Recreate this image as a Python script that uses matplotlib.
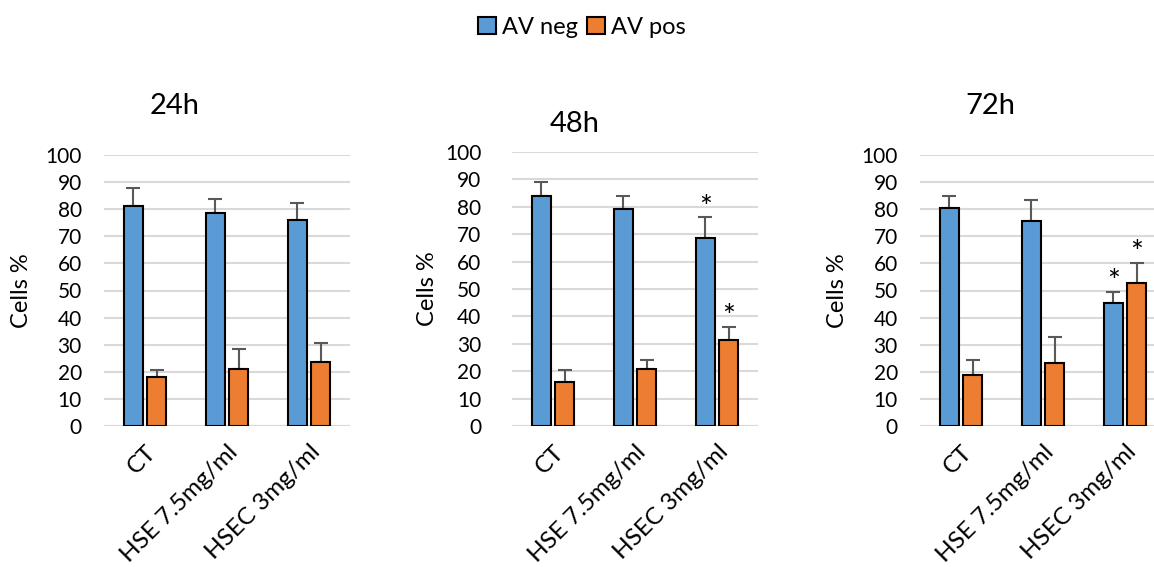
import numpy as np
import matplotlib.pyplot as plt

plt.rcParams["font.family"] = ["Lato", "DejaVu Sans"]

groups = ["CT", "HSE 7.5mg/ml", "HSEC 3mg/ml"]
times = ["24h", "48h", "72h"]

neg_24 = [81.3, 78.7, 76.0]
neg_24_err = [6.4, 5.1, 6.2]
pos_24 = [18.2, 20.9, 23.7]
pos_24_err = [2.5, 7.5, 6.9]

neg_48 = [84.0, 79.3, 68.7]
neg_48_err = [5.0, 4.8, 7.4]
pos_48 = [16.0, 20.8, 31.4]
pos_48_err = [4.6, 3.3, 4.7]

neg_72 = [80.6, 75.6, 45.4]
neg_72_err = [4.4, 7.8, 4.2]
pos_72 = [18.7, 23.4, 52.7]
pos_72_err = [5.7, 9.6, 7.5]

# significance markers (group index) per time point
stars_neg = [[], [2], [2]]
stars_pos = [[], [2], [2]]

BLUE = "#5b9bd5"
ORANGE = "#ed7d31"
GRID = "#d9d9d9"
ERR = "#595959"

W, H = 1154, 567
fig = plt.figure(figsize=(W / 100, H / 100), dpi=100)

# axes boxes in pixels: left, top(100), right, bottom(0)
boxes = [(104, 155, 350, 426), (512, 152, 758, 426), (920, 155, 1166, 426)]
title_pos = [(175, 114), (575, 132), (990, 114)]
tick_pad = [16, 22, 16]
ylabel_x = [32, 438, 848]

neg = [neg_24, neg_48, neg_72]
neg_err = [neg_24_err, neg_48_err, neg_72_err]
pos = [pos_24, pos_48, pos_72]
pos_err = [pos_24_err, pos_48_err, pos_72_err]

x = np.arange(len(groups))
bw = 0.23
off = 0.141

for i, (l, t, r, b) in enumerate(boxes):
    ax = fig.add_axes([l / W, 1 - b / H, (r - l) / W, (b - t) / H])
    ax.set_ylim(0, 100)
    ax.set_xlim(-0.5, 2.5)
    ax.set_yticks(np.arange(0, 101, 10))
    ax.yaxis.grid(True, color=GRID, lw=1.5)
    ax.set_axisbelow(True)
    for s in ax.spines.values():
        s.set_visible(False)
    ax.axhline(0, color=GRID, lw=1.5, zorder=0.5)

    ekw = dict(ecolor=ERR, elinewidth=1.5, capsize=5, capthick=1.5)
    zn = np.zeros(3)
    ax.errorbar(x - off, neg[i], yerr=[zn, neg_err[i]], fmt="none", zorder=1, **ekw)
    ax.errorbar(x + off, pos[i], yerr=[zn, pos_err[i]], fmt="none", zorder=1, **ekw)
    ax.bar(x - off, neg[i], bw, color=BLUE, edgecolor="black", lw=1.5,
           label="AV neg", zorder=2)
    ax.bar(x + off, pos[i], bw, color=ORANGE, edgecolor="black", lw=1.5,
           label="AV pos", zorder=2)

    for g in stars_neg[i]:
        ax.text(g - off, neg[i][g] + neg_err[i][g] - 1.5, "*", ha="center",
                va="bottom", fontsize=22)
    for g in stars_pos[i]:
        ax.text(g + off, pos[i][g] + pos_err[i][g] - 1.5, "*", ha="center",
                va="bottom", fontsize=22)

    ax.set_xticks(x)
    ax.set_xticklabels(groups, rotation=45, ha="right", rotation_mode="anchor",
                       fontsize=17.5)
    ax.tick_params(axis="x", length=0, pad=11)
    ax.tick_params(axis="y", length=0, pad=tick_pad[i], labelsize=15)
    ax.set_ylabel("Cells %", fontsize=17)
    ax.yaxis.set_label_coords((ylabel_x[i] - l) / (r - l), 0.5)

    tx, ty = title_pos[i]
    fig.text(tx / W, 1 - ty / H, times[i], ha="center", va="baseline",
             fontsize=21)

    if i == 0:
        handles, labels = ax.get_legend_handles_labels()

fig.legend(handles, labels, loc="center", bbox_to_anchor=(582 / W, 1 - 27 / H),
           ncol=2, frameon=False, fontsize=17, handlelength=0.75, handleheight=0.75,
           handletextpad=0.25, columnspacing=0.4)

fig.savefig("out.png", dpi=100)
